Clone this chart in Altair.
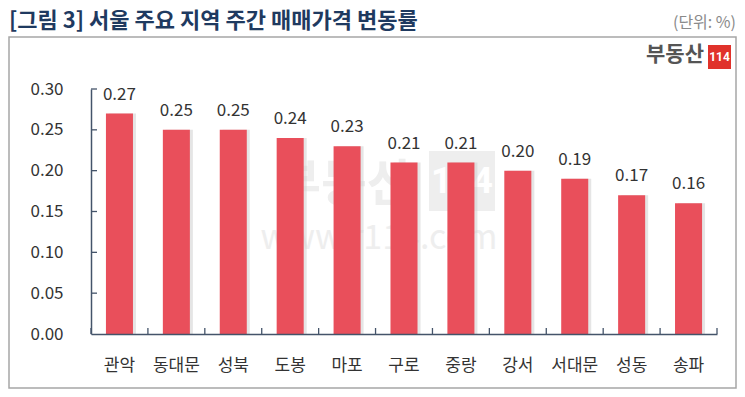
import altair as alt
import pandas as pd

regions = ["관악", "동대문", "성북", "도봉", "마포", "구로", "중랑", "강서", "서대문", "성동", "송파"]
rates = [0.27, 0.25, 0.25, 0.24, 0.23, 0.21, 0.21, 0.20, 0.19, 0.17, 0.16]
y_ticks = [0.00, 0.05, 0.10, 0.15, 0.20, 0.25, 0.30]

title_text = "[그림 3] 서울 주요 지역 주간 매매가격 변동률"
unit_text = "(단위: %)"

df = pd.DataFrame({"region": regions, "rate": rates})
tick_df = pd.DataFrame({"v": y_ticks[1:]})

FONT = "Noto Sans CJK KR"
AXIS = "#44546a"
BAR = "#e94f5b"
W, H = 626, 245
STEP = W / len(regions)

xs = alt.Scale(domain=regions, paddingInner=0.525, paddingOuter=0.2625)
ys = alt.Scale(domain=[0, 0.30], nice=False)

one = alt.Data(values=[{"a": 1}])

frame = alt.Chart(one).mark_rect(fillOpacity=0, stroke="#a6a6a6", strokeWidth=1.5).encode(
    x=alt.value(-82), x2=alt.value(645), y=alt.value(-52), y2=alt.value(299)
)

title = alt.Chart(one).mark_text(
    align="left", baseline="middle", fontSize=22, fontWeight="bold", color="#1f3a60", font=FONT
).encode(x=alt.value(-82), y=alt.value(-68.5), text=alt.value(title_text))

unit = alt.Chart(one).mark_text(
    align="right", baseline="middle", fontSize=16, color="#8a8a8a", font=FONT
).encode(x=alt.value(645), y=alt.value(-66), text=alt.value(unit_text))

logo_txt = alt.Chart(one).mark_text(
    align="right", baseline="middle", fontSize=21, fontWeight="bold", color="#555555", font=FONT
).encode(x=alt.value(613), y=alt.value(-34), text=alt.value("부동산"))

logo_box = alt.Chart(one).mark_rect(color="#e0322b").encode(
    x=alt.value(617), x2=alt.value(640), y=alt.value(-44), y2=alt.value(-20)
)
logo_num = alt.Chart(one).mark_text(
    align="center", baseline="middle", fontSize=12, fontWeight="bold", color="white", font="Roboto"
).encode(x=alt.value(628.5), y=alt.value(-32), text=alt.value("114"))

wm_txt = alt.Chart(one).mark_text(
    align="center", baseline="middle", fontSize=50, fontWeight="bold", color="#eeeeee", font=FONT
).encode(x=alt.value(253), y=alt.value(97), text=alt.value("부동산"))
wm_box = alt.Chart(one).mark_rect(color="#eeeeee").encode(
    x=alt.value(338), x2=alt.value(404), y=alt.value(62), y2=alt.value(122)
)
wm_num = alt.Chart(one).mark_text(
    align="center", baseline="middle", fontSize=36, fontWeight="bold", color="#ffffff", font="Roboto"
).encode(x=alt.value(371), y=alt.value(93), text=alt.value("114"))
wm_url = alt.Chart(one).mark_text(
    align="center", baseline="middle", fontSize=34, color="#eeeeee", font=FONT
).encode(x=alt.value(288), y=alt.value(150), text=alt.value("www.r114.com"))

shadow = alt.Chart(df).mark_bar(color="#cfcfcf", opacity=0.55, xOffset=3).encode(
    x=alt.X("region:N", sort=regions, scale=xs, title=None),
    y=alt.Y("rate:Q", scale=ys, title=None),
)

bars = alt.Chart(df).mark_bar(color=BAR).encode(
    x=alt.X(
        "region:N", sort=regions, scale=xs, title=None,
        axis=alt.Axis(
            labelAngle=0, labelAlign="center", labelFontSize=17, labelColor="#333333", labelFont=FONT,
            labelPadding=23, labelBaseline="top", ticks=False, tickSize=0, bandPosition=0.5,
            domainColor=AXIS, domainWidth=1.5, zindex=1,
        ),
    ),
    y=alt.Y(
        "rate:Q", scale=ys, title=None,
        axis=alt.Axis(
            values=y_ticks, format=".2f", labelFontSize=17, labelColor="#333333", labelFont=FONT,
            labelPadding=28, ticks=False, tickSize=0, grid=False,
            domainColor=AXIS, domainWidth=1.5, zindex=1,
        ),
    ),
)

labels = alt.Chart(df).mark_text(
    baseline="alphabetic", dy=-14, fontSize=17, color="#333333", font=FONT
).encode(
    x=alt.X("region:N", sort=regions, scale=xs, title=None),
    y=alt.Y("rate:Q", scale=ys, title=None),
    text=alt.Text("rate:Q", format=".2f"),
)

xt = alt.Chart(df).mark_rule(color=AXIS, strokeWidth=1.3, xOffset=-STEP / 2).encode(
    x=alt.X("region:N", sort=regions, scale=xs, title=None),
    y=alt.value(H), y2=alt.value(H - 6),
)
xt_end = alt.Chart(one).mark_rule(color=AXIS, strokeWidth=1.3).encode(
    x=alt.value(W), y=alt.value(H), y2=alt.value(H - 6)
)

yt = alt.Chart(tick_df).mark_rule(color=AXIS, strokeWidth=1.3).encode(
    y=alt.Y("v:Q", scale=ys, title=None), x=alt.value(0), x2=alt.value(6)
)

chart = alt.layer(
    frame, wm_txt, wm_box, wm_num, wm_url, shadow, bars, labels, xt, xt_end, yt,
    title, unit, logo_txt, logo_box, logo_num
).properties(
    width=W, height=H,
    padding={"left": 83, "top": 81, "right": 20, "bottom": 55},
    autosize=alt.AutoSizeParams(type="none"),
    background="white",
).configure_view(stroke=None)

chart.save("out.html", embed_options={"renderer": "svg", "actions": False})
